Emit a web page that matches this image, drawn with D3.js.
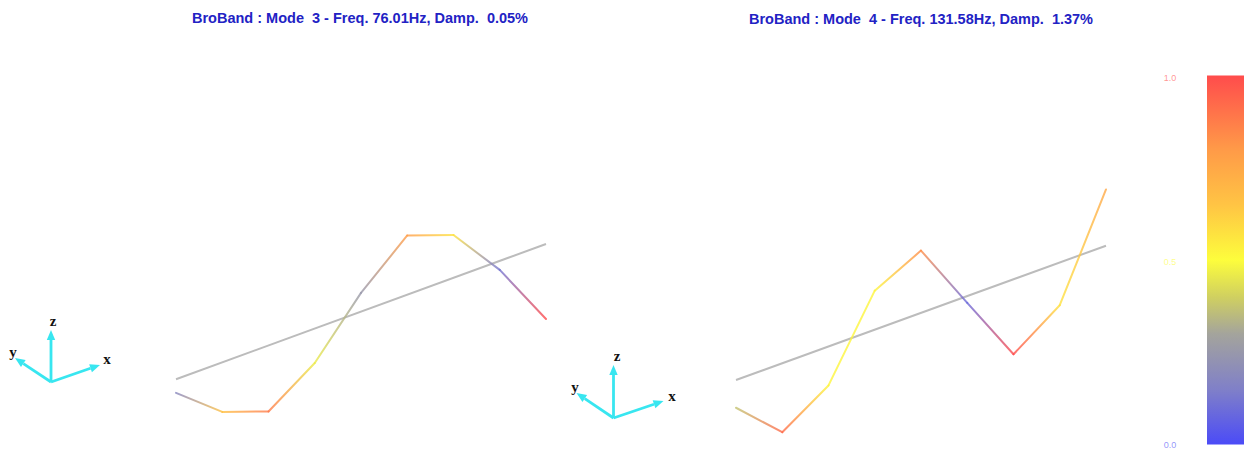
<!DOCTYPE html>
<html>
<head>
<meta charset="utf-8">
<script src="https://cdn.jsdelivr.net/npm/d3@7"></script>
<style>
  html, body { margin: 0; padding: 0; background: #fff; }
  svg { display: block; }
</style>
</head>
<body>
<svg id="chart" width="1244" height="453"></svg>
<script>
// Node stations along the beam (9 nodes, 8 elements)
const nodes = [0, 1, 2, 3, 4, 5, 6, 7, 8];

// Normalised vertical mode-shape amplitudes per node
const mode3Shape = [-0.18, -0.66, -0.88, -0.46, 0.25, 0.79, 0.57, -0.12, -1.0];
const mode4Shape = [-0.37, -0.92, -0.52, 0.52, 0.83, -0.09, -1.0, -0.57, 0.75];

const titles = [
  "BroBand : Mode  3 - Freq. 76.01Hz, Damp.  0.05%",
  "BroBand : Mode  4 - Freq. 131.58Hz, Damp.  1.37%"
];

// Colour bar ticks and colour map stops
const barTicks = [0.0, 0.5, 1.0];
const cmapStops = [0, 0.15, 0.3, 0.4, 0.5, 0.65, 0.8, 1.0];
const cmapColors = ["#4b4bf7", "#8080c8", "#a4a49c", "#d0d060", "#fdfd3c", "#ffc444", "#ff9a48", "#ff4c4c"];

const svg = d3.select("#chart");
const defs = svg.append("defs");

const color = d3.scaleLinear().domain(cmapStops).range(cmapColors).interpolate(d3.interpolateRgb);

// Panels: beam start/end in screen space, triad placement, title centre
const panels = [
  { shape: mode3Shape, title: titles[0], tx: 360, ty: 23,
    start: [176, 379.3], end: [546, 244],
    triad: { o: [51, 382], x: [49, -17], y: [-36, -24], z: [0, -52],
             lx: [107, 364], ly: [13, 357], lz: [53, 326] } },
  { shape: mode4Shape, title: titles[1], tx: 921, ty: 24,
    start: [736, 380], end: [1106, 245.7],
    triad: { o: [613.5, 418], x: [50, -17], y: [-37, -25], z: [0, -53],
             lx: [672, 401], ly: [575, 392], lz: [617, 361] } }
];

const amp = d3.scaleLinear().domain([-1, 1]).range([75, -75]);
const magMax = s => d3.max(s, v => Math.abs(v));

panels.forEach((p, pi) => {
  const sx = d3.scaleLinear().domain([0, 8]).range([p.start[0], p.end[0]]);
  const sy = d3.scaleLinear().domain([0, 8]).range([p.start[1], p.end[1]]);

  // title
  svg.append("text")
    .attr("x", p.tx).attr("y", p.ty)
    .attr("text-anchor", "middle")
    .style("white-space", "pre")
    .attr("font-family", "Liberation Sans, Arial, sans-serif")
    .attr("font-weight", "bold")
    .attr("font-size", 14.5)
    .attr("fill", "#2222c4")
    .text(p.title);

  // undeformed beam
  svg.append("line")
    .attr("x1", sx(0)).attr("y1", sy(0))
    .attr("x2", sx(8)).attr("y2", sy(8))
    .attr("stroke", "#bcbcbc").attr("stroke-width", 2);

  // deformed beam, each element shaded from node to node
  const mm = magMax(p.shape);
  const pts = nodes.map((n, i) => ({
    x: sx(n),
    y: sy(n) + amp(p.shape[i]),
    c: color(Math.abs(p.shape[i]) / mm)
  }));
  const g = svg.append("g").attr("stroke-opacity", 0.8);
  d3.pairs(pts).forEach(([a, b], i) => {
    const id = `seg${pi}_${i}`;
    const lg = defs.append("linearGradient").attr("id", id)
      .attr("gradientUnits", "userSpaceOnUse")
      .attr("x1", a.x).attr("y1", a.y).attr("x2", b.x).attr("y2", b.y);
    lg.append("stop").attr("offset", 0).attr("stop-color", a.c);
    lg.append("stop").attr("offset", 1).attr("stop-color", b.c);
    g.append("line")
      .attr("x1", a.x).attr("y1", a.y).attr("x2", b.x).attr("y2", b.y)
      .attr("stroke", `url(#${id})`)
      .attr("stroke-width", 2)
      .attr("stroke-linecap", "round");
  });

  // coordinate triad
  const t = p.triad;
  const tg = svg.append("g");
  ["x", "y", "z"].forEach(k => {
    const [dx, dy] = t[k];
    const len = Math.hypot(dx, dy);
    const ux = dx / len, uy = dy / len;
    const tip = [t.o[0] + dx, t.o[1] + dy];
    const hl = 10, hw = 4.2;
    const base = [tip[0] - ux * hl, tip[1] - uy * hl];
    tg.append("line")
      .attr("x1", t.o[0]).attr("y1", t.o[1])
      .attr("x2", base[0]).attr("y2", base[1])
      .attr("stroke", "#38e6f0").attr("stroke-width", 2.8);
    tg.append("path")
      .attr("d", d3.line()([
        tip,
        [base[0] - uy * hw, base[1] + ux * hw],
        [base[0] + uy * hw, base[1] - ux * hw]
      ]) + "Z")
      .attr("fill", "#38e6f0");
    const lp = t["l" + k];
    tg.append("text")
      .attr("x", lp[0]).attr("y", lp[1])
      .attr("text-anchor", "middle")
      .attr("font-family", "Liberation Serif, Times New Roman, serif")
      .attr("font-weight", "bold")
      .attr("font-size", 15)
      .attr("fill", "#111")
      .text(k);
  });
});

// colour bar
const barTop = 75.5, barBottom = 444.5, barX = 1207, barW = 37;
const cb = defs.append("linearGradient").attr("id", "cbar")
  .attr("x1", 0).attr("y1", 1).attr("x2", 0).attr("y2", 0);
cmapStops.forEach((s, i) => cb.append("stop").attr("offset", s).attr("stop-color", cmapColors[i]));
svg.append("rect")
  .attr("x", barX).attr("y", barTop)
  .attr("width", barW).attr("height", barBottom - barTop)
  .attr("fill", "url(#cbar)");

const by = d3.scaleLinear().domain([0, 1]).range([barBottom, barTop + 2]);
svg.append("g").selectAll("text").data(barTicks).join("text")
  .attr("x", 1170).attr("y", d => by(d) + 3.5)
  .attr("text-anchor", "middle")
  .attr("font-family", "Liberation Sans, Arial, sans-serif")
  .attr("font-size", 9)
  .attr("fill", d => color(d))
  .attr("fill-opacity", 0.6)
  .text(d => d.toFixed(1));
</script>
</body>
</html>
